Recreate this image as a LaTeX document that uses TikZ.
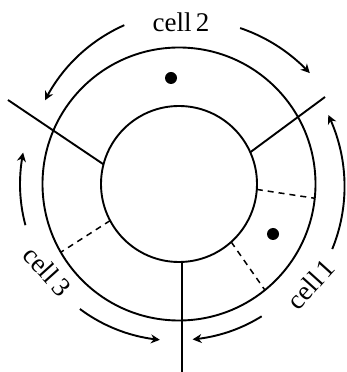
\documentclass[tikz,border=0pt]{standalone}
\usepackage{fontspec}
\setmainfont{Liberation Serif}
\usetikzlibrary{arrows.meta,calc}
\tikzset{
  ring/.style={line width=1.9pt},
  sep/.style={line width=1.9pt},
  dsep/.style={line width=1.5pt, dash pattern=on 6pt off 5pt},
  flow/.style={line width=1.9pt, -{Stealth[length=9pt,width=9pt]}},
  lab/.style={font=\fontsize{27}{30}\selectfont, inner sep=0pt},
  dot/.style={fill=black, draw=none}
}
\begin{document}
\begin{tikzpicture}[x=1pt,y=1pt]
\useasboundingbox (0,0) rectangle (346,372);
\coordinate (C) at (179,188);
% circles
\draw[ring] (C) circle[radius=78];
\draw[ring] (C) circle[radius=136.5];
% solid separators
\coordinate (a1) at ($(C)+(165.4:78)$);
\coordinate (a2) at (8,272);
\draw[sep] (a1) -- (a2);
\coordinate (b1) at ($(C)+(24:78)$);
\coordinate (b2) at (325,275);
\draw[sep] (b1) -- (b2);
\coordinate (c1) at (182,110);
\coordinate (c2) at (182,0);
\draw[sep] (c1) -- (c2);
% dashed separators
\coordinate (d1) at ($(C)+(-4:78)$);
\coordinate (d2) at ($(C)+(-6:136.5)$);
\draw[dsep] (d1) -- (d2);
\coordinate (e1) at ($(C)+(-48:78)$);
\coordinate (e2) at ($(C)+(-51:136.5)$);
\draw[dsep] (e1) -- (e2);
\coordinate (f1) at ($(C)+(208:78)$);
\coordinate (f2) at ($(C)+(210:136.5)$);
\draw[dsep] (f1) -- (f2);
% dots
\fill[dot] (171,294) circle[radius=6];
\fill[dot] (273,138) circle[radius=6];
% labels
\node[lab, anchor=base] (l2) at (181,340) {cell\hspace{0.15em}2};
\node[lab, rotate=-48] (l3) at (47,101) {cell\hspace{0.15em}3};
\node[lab, rotate=48] (l1) at (311,88) {cell\hspace{0.15em}1};
% arrows (slightly spiralling arcs)
\draw[flow] plot[smooth, domain=109:148, samples=20] ({179+(168-10*(\x-109)/39)*cos(\x)},{188+(168-10*(\x-109)/39)*sin(\x)});
\draw[flow] plot[smooth, domain=68.6:40.3, samples=20] ({179+(167.5+4*(68.6-\x)/28.3)*cos(\x)},{188+(167.5+4*(68.6-\x)/28.3)*sin(\x)});
\draw[flow] plot[smooth, domain=-23:24.8, samples=20] ({179+(166.5-2*(\x+23)/47.8)*cos(\x)},{188+(166.5-2*(\x+23)/47.8)*sin(\x)});
\draw[flow] plot[smooth, domain=195:168.6, samples=20] ({179+159*cos(\x)},{188+159*sin(\x)});
\draw[flow] plot[smooth, domain=231.6:263, samples=20] ({179+(159.5-2.5*(\x-231.6)/31.4)*cos(\x)},{188+(159.5-2.5*(\x-231.6)/31.4)*sin(\x)});
\draw[flow] plot[smooth, domain=302:275, samples=20] ({179+156*cos(\x)},{188+156*sin(\x)});
\end{tikzpicture}
\end{document}
